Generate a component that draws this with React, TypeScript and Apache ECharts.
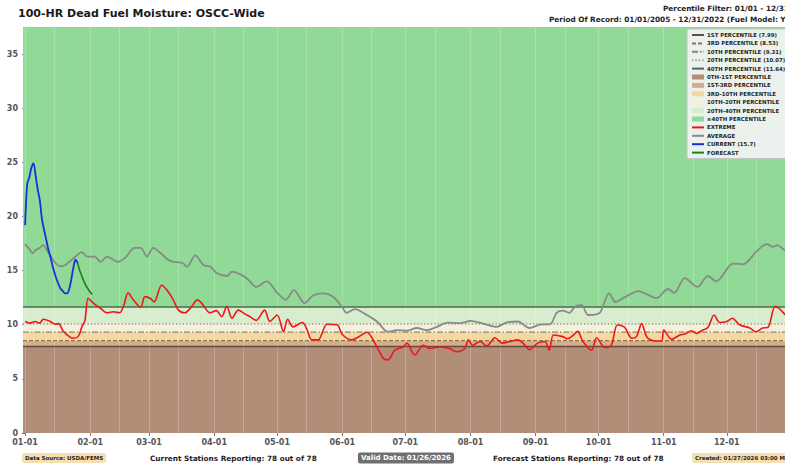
import React, { useEffect, useRef } from 'react';
import * as echarts from 'echarts';

const FONT = 'DejaVu Sans';
const X_MIN = -1;
const X_MAX = 366;
const Y_MAX = 37.5;

const monthStarts = [0, 31, 59, 90, 120, 151, 181, 212, 243, 273, 304, 334];
const monthLabels = ['01-01', '02-01', '03-01', '04-01', '05-01', '06-01', '07-01', '08-01', '09-01', '10-01', '11-01', '12-01'];
const midMonths = [14, 45, 73, 104, 134, 165, 195, 226, 257, 287, 318, 348];
const yTicks = [0, 5, 10, 15, 20, 25, 30, 35];

const pctNames = ['1ST PERCENTILE (7.99)', '3RD PERCENTILE (8.53)', '10TH PERCENTILE (9.31)', '20TH PERCENTILE (10.07)', '40TH PERCENTILE (11.64)'];
const pctValues = [7.99, 8.53, 9.31, 10.07, 11.64];
const pctColors = ['#5e4d42', '#8a7356', '#8d8373', '#8f9488', '#4d6b50'];
const pctDash: any[] = ['solid', [4, 2], [6, 2, 1.5, 2], [1.2, 2.2], 'solid'];

const bandNames = ['0TH-1ST PERCENTILE', '1ST-3RD PERCENTILE', '3RD-10TH PERCENTILE', '10TH-20TH PERCENTILE', '20TH-40TH PERCENTILE', '≥40TH PERCENTILE'];
const bandLower = [0, 7.99, 8.53, 9.31, 10.07, 11.64];
const bandUpper = [7.99, 8.53, 9.31, 10.07, 11.64, Y_MAX];
const bandColors = ['#b28e78', '#d9ad88', '#f4d89e', '#f4f0dc', '#d7edcd', '#91d996'];

const currentDays = [0, 1, 2, 3, 4, 5, 6, 7, 8, 9, 10, 11, 12, 13, 14, 15, 16, 17, 18, 19, 20, 21, 22, 23, 24, 25];
const currentValues = [19.2, 23.0, 23.6, 24.5, 24.9, 23.8, 22.5, 21.5, 19.8, 18.8, 17.9, 17.0, 16.3, 15.5, 14.8, 14.2, 13.7, 13.3, 13.1, 12.9, 12.9, 13.3, 14.2, 15.3, 16.0, 15.7];

const forecastDays = [25, 26, 27, 28, 29, 30, 31, 32];
const forecastValues = [15.7, 15.0, 14.5, 14.0, 13.6, 13.3, 13.0, 12.8];

const averageDays = [0, 2, 3.5, 5, 7, 8.7, 10, 12, 14, 16.7, 19, 21, 24, 27, 29.5, 33, 36, 39, 42, 44, 48, 52, 55, 58, 61, 64, 69, 75, 77, 81, 85, 88, 91, 96, 98.5, 103, 106, 110, 115, 120, 124, 128, 133, 137, 142, 146.5, 151, 153, 157, 162.7, 167.5, 172.7, 177, 181.7, 186.5, 191, 196, 201, 207, 212, 218, 224.5, 229, 234.5, 240, 245, 250, 253, 256, 259, 262, 265, 268, 273.5, 278, 281, 286, 292, 296, 300.6, 306, 309, 314, 320, 325, 329, 337, 342, 348, 353, 356, 358, 362, 365];
const averageValues = [17.45, 17.0, 16.6, 16.9, 17.1, 17.35, 17.0, 16.4, 15.8, 15.4, 15.5, 15.8, 16.3, 16.7, 16.3, 16.3, 15.8, 16.3, 16.0, 15.8, 16.25, 17.1, 17.1, 16.3, 17.1, 16.7, 15.9, 15.7, 15.35, 16.4, 15.5, 15.4, 14.8, 14.5, 14.9, 14.6, 14.2, 13.5, 14.0, 12.95, 12.3, 13.2, 12.0, 12.7, 12.9, 12.6, 11.6, 11.1, 11.45, 10.9, 10.3, 9.35, 9.5, 9.45, 9.7, 9.5, 9.8, 10.2, 10.15, 10.35, 10.1, 9.8, 10.2, 10.3, 9.7, 10.0, 10.05, 11.1, 11.3, 11.1, 11.7, 11.8, 10.9, 11.1, 12.9, 12.1, 12.6, 13.1, 12.8, 12.45, 13.3, 12.95, 14.3, 13.5, 14.5, 14.0, 15.65, 15.6, 16.75, 17.45, 17.2, 17.35, 16.8, 16.6];

const extremeDays = [0, 2.4, 4.8, 6.8, 8.7, 12, 14.3, 16, 18, 21.4, 23, 25.4, 27, 28.5, 30, 32.5, 36, 39, 42, 45, 47, 49, 51.5, 55, 57, 59.5, 61.4, 65, 67.5, 70.5, 73, 76, 79, 82, 84, 88, 91, 93.6, 96, 98.5, 101.5, 104.6, 107, 110, 114, 116.5, 120, 123, 125, 127.5, 132, 134, 136.5, 139.5, 143.7, 148.5, 151, 155.5, 158.5, 162.7, 166.5, 170.5, 172.7, 176, 180, 181.7, 185.5, 189.5, 192.7, 197.5, 202, 205.5, 209.3, 211, 213, 216.5, 219.8, 223.6, 227, 230.7, 234.5, 238, 240, 244, 247.4, 249.5, 251.5, 256, 258, 261, 263, 265.5, 269.7, 272, 276, 279, 282, 285.4, 288.8, 291, 293.5, 296, 299.7, 303, 304, 307.8, 311.6, 314, 317.3, 319.7, 322, 325, 328, 330.6, 334, 336.7, 340, 345, 348, 351, 353.6, 357, 359, 362, 365];
const extremeValues = [10.3, 10.15, 10.3, 10.15, 10.5, 10.3, 10.05, 10.1, 9.45, 8.85, 8.75, 8.95, 9.8, 10.4, 12.45, 12.0, 11.5, 11.1, 11.2, 11.1, 11.8, 12.95, 12.3, 11.6, 12.6, 12.45, 12.1, 13.65, 13.2, 12.3, 11.35, 11.1, 11.6, 12.3, 12.0, 11.1, 11.3, 10.75, 11.7, 10.6, 11.35, 11.0, 10.75, 10.4, 11.35, 10.3, 10.9, 9.35, 10.5, 9.8, 10.2, 9.65, 8.6, 8.6, 10.05, 10.0, 9.1, 8.6, 8.85, 9.3, 8.3, 6.9, 6.75, 7.65, 7.95, 8.3, 7.2, 8.1, 7.8, 7.95, 7.8, 7.5, 7.8, 8.6, 8.1, 8.45, 8.05, 8.8, 8.3, 8.45, 8.6, 8.1, 7.7, 8.3, 8.45, 7.65, 9.05, 8.9, 8.7, 9.05, 9.4, 8.45, 7.65, 8.8, 7.9, 8.1, 10.0, 9.75, 8.75, 8.9, 10.1, 8.85, 8.5, 8.5, 9.5, 8.65, 9.05, 9.15, 9.45, 9.2, 9.45, 9.75, 10.9, 10.2, 10.3, 10.6, 10.0, 9.7, 9.35, 9.7, 9.75, 11.7, 11.5, 10.9, 10.6];

const zip = (xs: number[], ys: number[]) => xs.map((x, i) => [x, ys[i]]);

export default function App() {
  const ref = useRef<HTMLDivElement>(null);

  useEffect(() => {
    if (!ref.current) return;
    const chart = echarts.init(ref.current, undefined, { renderer: 'svg' });

    const bandSeries = bandNames.map((name, i) => ({
      name,
      type: 'line',
      data: [[X_MIN, bandUpper[i]], [X_MAX, bandUpper[i]]],
      symbol: 'none',
      silent: true,
      z: 1,
      itemStyle: { color: bandColors[i] },
      lineStyle: { width: 0, opacity: 0 },
      areaStyle: { color: bandColors[i], opacity: 1, origin: bandLower[i] },
    }));

    const gridLineValues = [...monthStarts, ...midMonths];

    const pctSeries = pctNames.map((name, i) => ({
      name,
      type: 'line',
      data: [[X_MIN, pctValues[i]], [X_MAX, pctValues[i]]],
      symbol: 'none',
      silent: true,
      z: 3,
      itemStyle: { color: pctColors[i] },
      lineStyle: { color: pctColors[i], width: 1.3, type: pctDash[i] },
      ...(i === 0
        ? {
            markLine: {
              silent: true,
              symbol: 'none',
              label: { show: false },
              z: 2,
              lineStyle: { color: 'rgba(255,255,255,0.22)', width: 1, type: 'solid' },
              data: gridLineValues.map((v) => ({ xAxis: v })),
            },
          }
        : {}),
    }));

    const lineSeries = [
      { name: 'EXTREME', days: extremeDays, values: extremeValues, color: '#f01616', width: 1.6, z: 4 },
      { name: 'AVERAGE', days: averageDays, values: averageValues, color: '#878a86', width: 1.8, z: 4 },
      { name: 'CURRENT (15.7)', days: currentDays, values: currentValues, color: '#1530e0', width: 1.8, z: 5 },
      { name: 'FORECAST', days: forecastDays, values: forecastValues, color: '#1d7f1d', width: 1.6, z: 5 },
    ].map((s) => ({
      name: s.name,
      type: 'line',
      data: zip(s.days, s.values),
      symbol: 'none',
      smooth: 0.3,
      z: s.z,
      itemStyle: { color: s.color },
      lineStyle: { color: s.color, width: s.width },
    }));

    const hiddenSymbol = { opacity: 0, borderWidth: 0 };
    const legendData = [
      ...pctNames.map((n) => ({ name: n, itemStyle: hiddenSymbol })),
      ...bandNames.map((n, i) => ({ name: n, icon: 'rect', itemStyle: { color: bandColors[i] } })),
      ...lineSeries.map((s) => ({ name: s.name, itemStyle: hiddenSymbol })),
    ];

    const footer = (text: string, x: number, opts: any = {}) => ({
      type: 'text',
      x,
      y: 458,
      silent: true,
      style: {
        text,
        fontFamily: FONT,
        fontWeight: 'bold',
        fontSize: 7.3,
        fill: '#1e1e1e',
        textVerticalAlign: 'middle',
        ...opts,
      },
    });

    chart.setOption({
      animation: false,
      backgroundColor: '#ffffff',
      textStyle: { fontFamily: FONT },
      title: {
        text: '100-HR Dead Fuel Moisture: OSCC-Wide',
        left: 18,
        top: 8,
        padding: 0,
        textStyle: { fontFamily: FONT, fontSize: 11, fontWeight: 'bold', color: '#1a1a1a' },
      },
      grid: { left: 23, right: -9, top: 27, bottom: 31, containLabel: false, outerBoundsMode: 'none' },
      legend: {
        orient: 'vertical',
        left: 687,
        top: 29,
        padding: [3, 4, 3, 4],
        itemWidth: 12,
        itemHeight: 5,
        itemGap: 2.4,
        selectedMode: false,
        backgroundColor: 'rgba(242,242,242,0.93)',
        borderColor: '#c4c4c4',
        borderWidth: 1,
        borderRadius: 2,
        textStyle: { fontFamily: FONT, fontSize: 5.4, lineHeight: 6, fontWeight: 'bold', color: '#262626', padding: [0, 0, 0, -2] },
        data: legendData,
      },
      xAxis: {
        type: 'value',
        min: X_MIN,
        max: X_MAX,
        axisLine: { show: false },
        splitLine: { show: false },
        axisTick: { show: true, customValues: monthStarts, length: 3, lineStyle: { color: '#777' } },
        axisLabel: {
          customValues: monthStarts,
          formatter: (v: number) => monthLabels[monthStarts.indexOf(v)] ?? '',
          fontFamily: FONT,
          fontSize: 8,
          fontWeight: 'bold',
          color: '#555',
          margin: 5,
        },
      },
      yAxis: {
        type: 'value',
        min: 0,
        max: Y_MAX,
        axisLine: { show: false },
        splitLine: { show: false },
        axisTick: { show: true, customValues: yTicks, length: 3, lineStyle: { color: '#777' } },
        axisLabel: {
          customValues: yTicks,
          fontFamily: FONT,
          fontSize: 8,
          fontWeight: 'bold',
          color: '#555',
          margin: 5,
        },
      },
      series: [...bandSeries, ...pctSeries, ...lineSeries],
      graphic: [
        {
          type: 'text',
          x: 663,
          y: 8,
          silent: true,
          style: { text: 'Percentile Filter: 01/01 - 12/31', fontFamily: FONT, fontWeight: 'bold', fontSize: 7.3, fill: '#1e1e1e', textVerticalAlign: 'middle' },
        },
        {
          type: 'text',
          x: 549,
          y: 19,
          silent: true,
          style: { text: 'Period Of Record: 01/01/2005 - 12/31/2022 (Fuel Model: Y)', fontFamily: FONT, fontWeight: 'bold', fontSize: 7.3, fill: '#1e1e1e', textVerticalAlign: 'middle' },
        },
        footer('Data Source: USDA/FEMS', 22, { fontSize: 5.5, backgroundColor: '#f6dfb0', padding: [2, 3, 2, 3], borderRadius: 2 }),
        footer('Current Stations Reporting: 78 out of 78', 150),
        footer('Valid Date: 01/26/2026', 358, { fontSize: 7, fill: '#ffffff', backgroundColor: '#6f6f6f', padding: [2, 3, 2, 3], borderRadius: 2 }),
        footer('Forecast Stations Reporting: 78 out of 78', 493),
        footer('Created: 01/27/2026 03:00 MST', 692, { fontSize: 5.5, backgroundColor: '#f6dfb0', padding: [2, 3, 2, 3], borderRadius: 2 }),
      ],
    });

    return () => chart.dispose();
  }, []);

  return (
    <div
      ref={ref}
      style={{ position: 'fixed', left: 0, top: 0, width: 785, height: 464, overflow: 'hidden', background: '#fff' }}
    />
  );
}
